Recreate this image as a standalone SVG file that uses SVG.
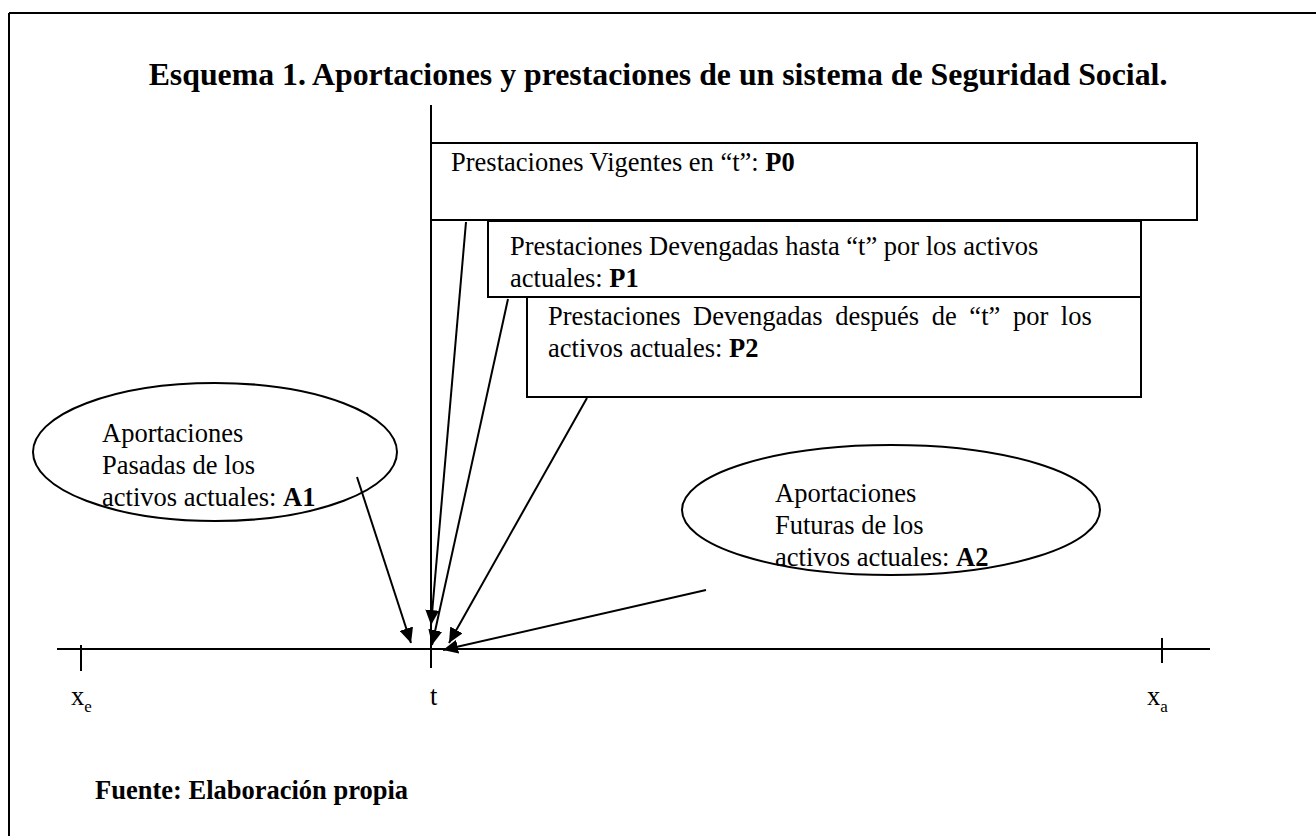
<svg xmlns="http://www.w3.org/2000/svg" width="1316" height="836" viewBox="0 0 1316 836">
<defs>
<style>
.t{font-family:"Liberation Serif","Times New Roman",serif;font-size:26.5px;fill:#000}
.b{font-weight:bold}
.h{font-size:31.8px}
.s{font-size:17px}
.ln{stroke:#000;stroke-width:2;fill:none}
.bx{stroke:#000;stroke-width:2;fill:#fff}
.ar{stroke:#000;stroke-width:2;fill:none;marker-end:url(#ah)}
</style>
<marker id="ah" markerUnits="userSpaceOnUse" markerWidth="16" markerHeight="14" refX="15" refY="7" orient="auto">
<path d="M0,0 L15,7 L0,14 z" fill="#000"/>
</marker>
</defs>
<rect width="1316" height="836" fill="#fff"/>
<g id="frame">
<path class="ln" d="M9,13 H1316 M9,13 V836"/>
</g>
<text class="t b h" x="658" y="85" text-anchor="middle">Esquema 1. Aportaciones y prestaciones de un sistema de Seguridad Social.</text>
<g id="axis">
<path class="ln" d="M57,649 H1210 M81,645 V671 M1162,638 V663 M431,105 V668"/>
<text class="t" x="71" y="705">x<tspan class="s" dy="7">e</tspan></text>
<text class="t" x="430" y="705">t</text>
<text class="t" x="1147" y="705">x<tspan class="s" dy="7">a</tspan></text>
</g>
<g id="P0">
<rect class="bx" x="431" y="143" width="766" height="77"/>
<text class="t" x="451" y="171">Prestaciones Vigentes en “t”: <tspan class="b">P0</tspan></text>
</g>
<g id="P1">
<rect class="bx" x="488" y="221" width="653" height="76"/>
<text class="t" x="510" y="255">Prestaciones Devengadas hasta “t” por los activos</text>
<text class="t" x="510" y="287">actuales: <tspan class="b">P1</tspan></text>
</g>
<g id="P2">
<rect class="bx" x="527" y="297" width="614" height="100"/>
<text class="t" x="548" y="325" word-spacing="6">Prestaciones Devengadas después de “t” por los</text>
<text class="t" x="548" y="357">activos actuales: <tspan class="b">P2</tspan></text>
</g>
<g id="A1">
<ellipse class="bx" cx="215" cy="452" rx="182" ry="69"/>
<text class="t" x="102" y="442">Aportaciones</text>
<text class="t" x="102" y="474">Pasadas de los</text>
<text class="t" x="102" y="506">activos actuales: <tspan class="b">A1</tspan></text>
</g>
<g id="A2">
<ellipse class="bx" cx="891" cy="510" rx="209" ry="65"/>
<text class="t" x="775" y="502">Aportaciones</text>
<text class="t" x="775" y="534">Futuras de los</text>
<text class="t" x="775" y="566">activos actuales: <tspan class="b">A2</tspan></text>
</g>
<g id="connectors">
<line class="ar" x1="466" y1="222" x2="431" y2="625"/>
<line class="ar" x1="508" y1="299" x2="432" y2="645"/>
<line class="ar" x1="587" y1="398" x2="449" y2="643"/>
<line class="ar" x1="357" y1="477" x2="411" y2="643"/>
<line class="ar" x1="706" y1="590" x2="443" y2="650"/>
</g>
<text class="t b" x="95" y="799">Fuente: Elaboración propia</text>
</svg>
